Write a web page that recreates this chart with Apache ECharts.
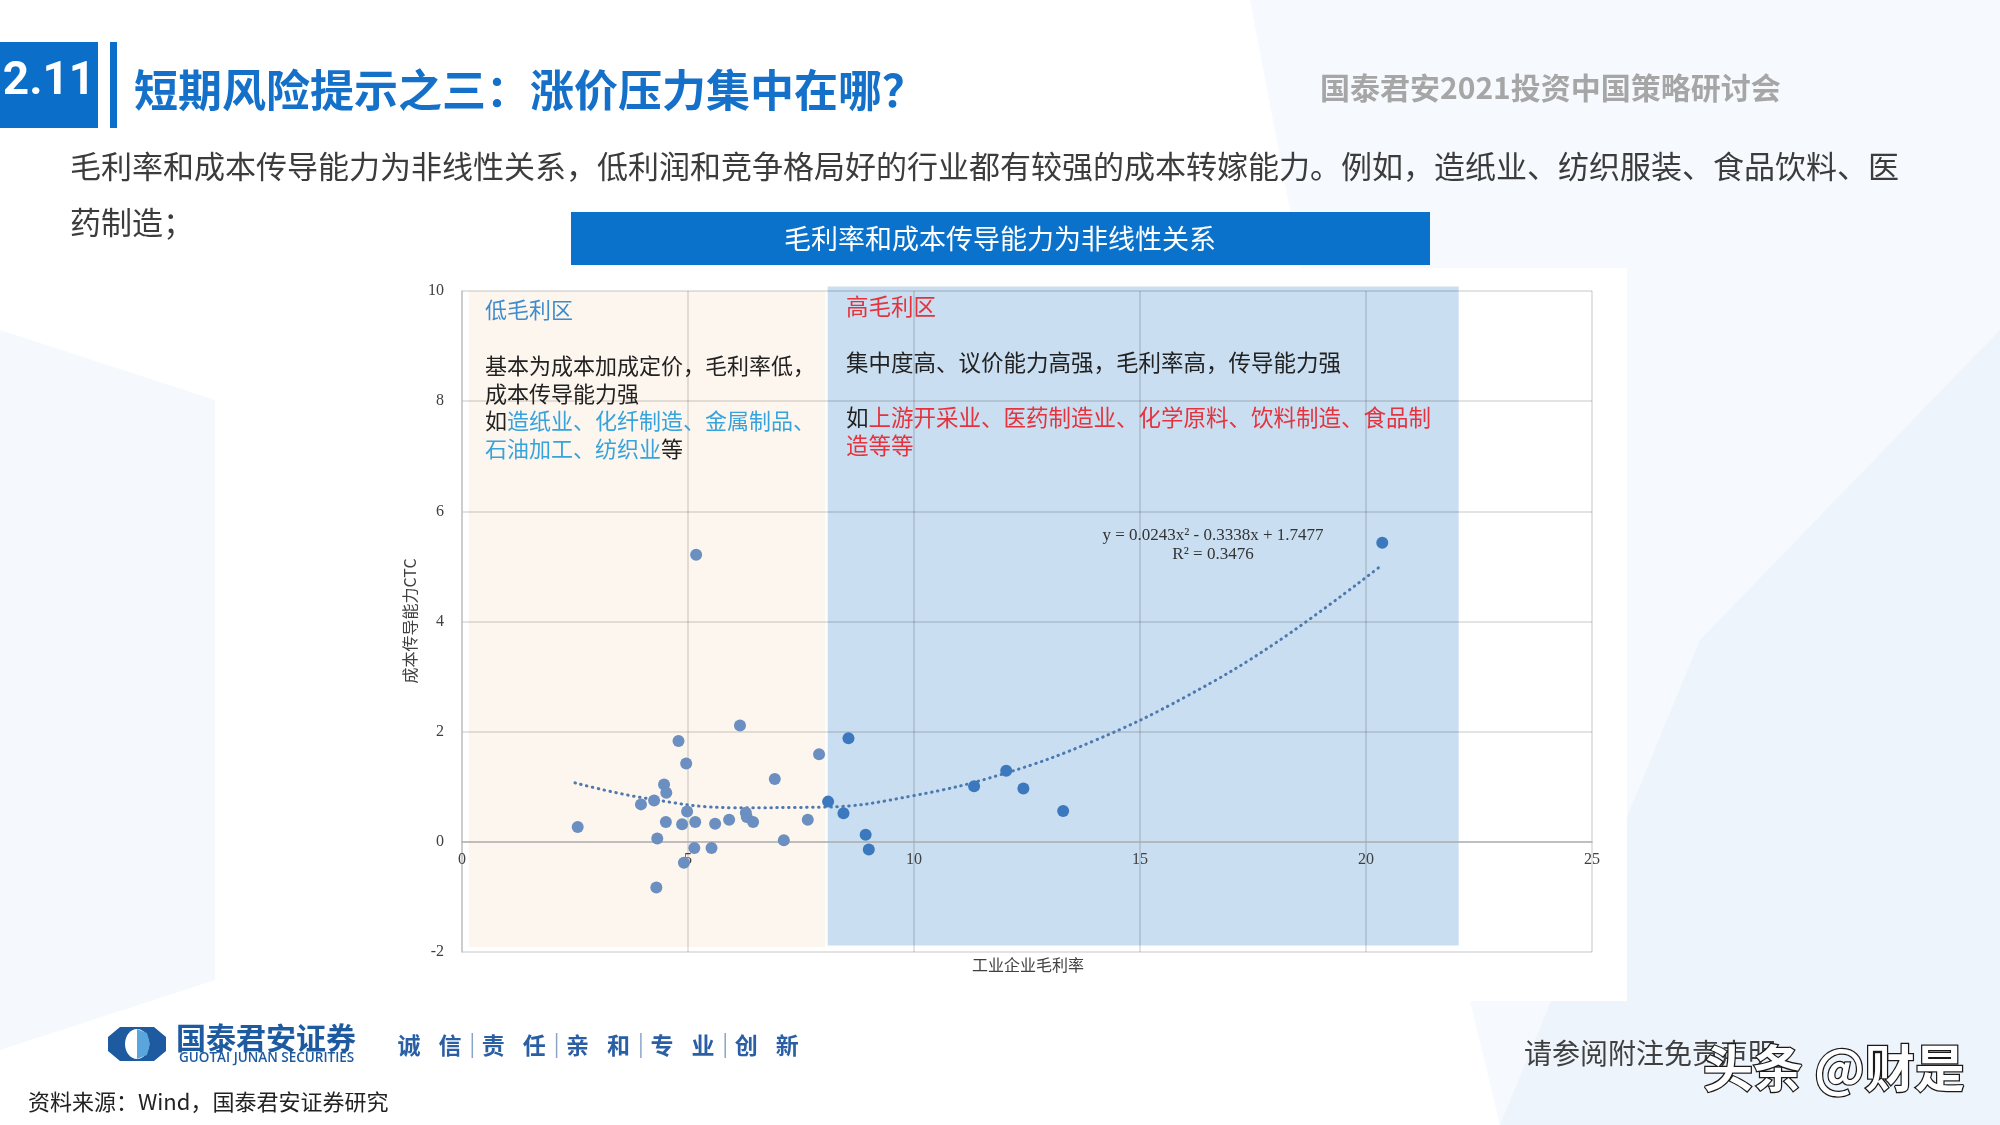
<!DOCTYPE html>
<html>
<head>
<meta charset="utf-8">
<script src="https://cdn.jsdelivr.net/npm/echarts/dist/echarts.min.js"></script>
<style>
html, body { margin: 0; padding: 0; background: #fff; }
#chart { width: 2000px; height: 1125px; }
</style>
</head>
<body>
<div id="chart"></div>
<script>
// 低毛利区散点（工业企业毛利率, 成本传导能力CTC）
var lowMarginX = [5.18, 6.15, 4.79, 4.96, 7.90, 6.92, 4.47, 4.52, 4.25, 3.96, 4.98, 6.28, 6.30, 6.44, 4.51, 4.87, 5.16, 5.60, 5.91, 7.65, 2.56, 4.32, 7.12, 5.14, 5.52, 4.91, 4.30];
var lowMarginY = [5.21, 2.11, 1.83, 1.42, 1.59, 1.14, 1.04, 0.89, 0.75, 0.68, 0.55, 0.53, 0.45, 0.36, 0.36, 0.32, 0.36, 0.33, 0.40, 0.40, 0.27, 0.06, 0.03, -0.11, -0.11, -0.38, -0.83];
// 高毛利区散点
var highMarginX = [8.55, 8.10, 8.44, 8.93, 9.00, 11.33, 12.04, 12.42, 13.30, 20.36];
var highMarginY = [1.88, 0.73, 0.52, 0.13, -0.14, 1.01, 1.29, 0.97, 0.56, 5.43];
// 趋势线
var trendX = [2.5, 4, 6, 8, 10, 12, 14, 16, 18, 20.3];
var trendY = [1.07, 0.80, 0.62, 0.63, 0.84, 1.24, 1.84, 2.63, 3.61, 4.99];
// 分区范围: [x起, x止, y起, y止]
var zoneLow = [0.15, 8.04, -1.91, 10];
var zoneHigh = [8.09, 22.05, -1.88, 10.08];
var xTicks = [0, 5, 10, 15, 20, 25];
var yTicks = [-2, 0, 2, 4, 6, 8, 10];

var CJK = '"Noto Sans CJK SC", sans-serif';
var SERIF = '"Liberation Serif", "DejaVu Serif", serif';

function zip(xs, ys) {
    var out = [];
    for (var i = 0; i < xs.length; i++) out.push([xs[i], ys[i]]);
    return out;
}

var zoneFill = ['#fdf6ee', '#c9def0'];

var graphics = [
    // 页面背景
    { type: 'polygon', z: -30, shape: { points: [[1250, 0], [2000, 0], [2000, 1125], [1500, 1125], [1330, 420]] }, style: { fill: '#f6f9fd' } },
    { type: 'polygon', z: -29, shape: { points: [[1700, 640], [2000, 330], [2000, 1125], [1500, 1125]] }, style: { fill: '#eef4fb' } },
    { type: 'polygon', z: -29, shape: { points: [[0, 330], [215, 400], [215, 980], [0, 1050]] }, style: { fill: '#f5f8fc' } },
    { type: 'rect', z: -20, shape: { x: 372, y: 268, width: 1255, height: 733 }, style: { fill: '#ffffff' } },
    // 顶部标题
    { type: 'rect', shape: { x: 0, y: 42, width: 98, height: 86 }, style: { fill: '#0b6fca' } },
    { type: 'text', style: { x: 49, y: 82, text: '2.11', fill: '#fff', font: 'bold 46px Roboto, sans-serif', align: 'center', verticalAlign: 'middle' } },
    { type: 'rect', shape: { x: 110, y: 42, width: 7, height: 86 }, style: { fill: '#0b6fca' } },
    { type: 'text', style: { x: 134, y: 90, text: '短期风险提示之三：涨价压力集中在哪？', fill: '#1470c8', font: 'bold 44px ' + CJK, verticalAlign: 'middle' } },
    { type: 'text', style: { x: 1320, y: 88, text: '国泰君安2021投资中国策略研讨会', fill: '#a6a6a6', font: 'bold 30px ' + CJK, verticalAlign: 'middle' } },
    { type: 'text', style: { x: 70, y: 166, text: '毛利率和成本传导能力为非线性关系，低利润和竞争格局好的行业都有较强的成本转嫁能力。例如，造纸业、纺织服装、食品饮料、医', fill: '#3c3c3c', font: '31px ' + CJK, verticalAlign: 'middle' } },
    { type: 'text', style: { x: 70, y: 222, text: '药制造；', fill: '#3c3c3c', font: '31px ' + CJK, verticalAlign: 'middle' } },
    // 图表标题条
    { type: 'rect', shape: { x: 571, y: 212, width: 859, height: 53 }, style: { fill: '#0b72cc' } },
    { type: 'text', style: { x: 1000, y: 239, text: '毛利率和成本传导能力为非线性关系', fill: '#fff', font: '27px ' + CJK, align: 'center', verticalAlign: 'middle' } },
    // 轴名
    { type: 'text', x: 410, y: 621, rotation: Math.PI / 2, style: { x: 0, y: 0, text: '成本传导能力CTC', fill: '#404040', font: '16px ' + CJK, align: 'center', verticalAlign: 'middle' } },
    { type: 'text', style: { x: 1028, y: 965, text: '工业企业毛利率', fill: '#404040', font: '16px ' + CJK, align: 'center', verticalAlign: 'middle' } },
    // 区内说明
    { type: 'text', z: 20, style: { x: 485, y: 310, text: '低毛利区', fill: '#3f8ccc', font: '22px ' + CJK, verticalAlign: 'middle' } },
    { type: 'text', z: 20, style: { x: 485, y: 366, text: '基本为成本加成定价，毛利率低，', fill: '#222', font: '22px ' + CJK, verticalAlign: 'middle' } },
    { type: 'text', z: 20, style: { x: 485, y: 394, text: '成本传导能力强', fill: '#222', font: '22px ' + CJK, verticalAlign: 'middle' } },
    { type: 'text', z: 20, style: { x: 485, y: 421, text: '{k|如}{b|造纸业、化纤制造、金属制品、}', verticalAlign: 'middle',
        rich: { k: { fill: '#222', font: '22px ' + CJK }, b: { fill: '#37a3dc', font: '22px ' + CJK } } } },
    { type: 'text', z: 20, style: { x: 485, y: 449, text: '{b|石油加工、纺织业}{k|等}', verticalAlign: 'middle',
        rich: { k: { fill: '#222', font: '22px ' + CJK }, b: { fill: '#37a3dc', font: '22px ' + CJK } } } },
    { type: 'text', z: 20, style: { x: 846, y: 306, text: '高毛利区', fill: '#e5323c', font: '22.5px ' + CJK, verticalAlign: 'middle' } },
    { type: 'text', z: 20, style: { x: 846, y: 362, text: '集中度高、议价能力高强，毛利率高，传导能力强', fill: '#222', font: '22.5px ' + CJK, verticalAlign: 'middle' } },
    { type: 'text', z: 20, style: { x: 846, y: 417, text: '{k|如}{r|上游开采业、医药制造业、化学原料、饮料制造、食品制}', verticalAlign: 'middle',
        rich: { k: { fill: '#222', font: '22.5px ' + CJK }, r: { fill: '#e5323c', font: '22.5px ' + CJK } } } },
    { type: 'text', z: 20, style: { x: 846, y: 445, text: '造等等', fill: '#e5323c', font: '22.5px ' + CJK, verticalAlign: 'middle' } },
    // 趋势线公式
    { type: 'text', z: 20, style: { x: 1213, y: 536, text: 'y = 0.0243x² - 0.3338x + 1.7477', fill: '#333', font: '17px ' + SERIF, align: 'center', verticalAlign: 'middle' } },
    { type: 'text', z: 20, style: { x: 1213, y: 555, text: 'R² = 0.3476', fill: '#333', font: '17px ' + SERIF, align: 'center', verticalAlign: 'middle' } },
    // 底部 logo
    { type: 'polygon', shape: { points: [[120, 1027], [154, 1027], [166, 1037], [166, 1051], [154, 1061], [120, 1061], [108, 1051], [108, 1037]] }, style: { fill: '#1d5aa0' } },
    { type: 'ellipse', shape: { cx: 137, cy: 1044, rx: 12, ry: 15 }, style: { fill: '#ffffff' } },
    { type: 'polygon', shape: { points: [[137, 1029], [147, 1033], [150, 1044], [147, 1055], [137, 1059]] }, style: { fill: '#5aa5dc' } },
    { type: 'text', style: { x: 176, y: 1038, text: '国泰君安证券', fill: '#1d5aa0', font: 'bold 30px ' + CJK, verticalAlign: 'middle' } },
    { type: 'text', style: { x: 179, y: 1058, text: 'GUOTAI JUNAN SECURITIES', fill: '#1d5aa0', font: '600 13.5px "Open Sans", sans-serif', verticalAlign: 'middle' } },
    { type: 'text', style: { x: 28, y: 1102, text: '资料来源：Wind，国泰君安证券研究', fill: '#222', font: '22px ' + CJK, verticalAlign: 'middle' } },
    { type: 'text', style: { x: 1524, y: 1053, text: '请参阅附注免责声明', fill: '#404040', font: '28px ' + CJK, verticalAlign: 'middle' } },
    { type: 'text', z: 30, style: { x: 1703, y: 1068, text: '头条 @财是', fill: '#ffffff', stroke: '#1a1a1a', lineWidth: 2.5, font: 'bold 50px ' + CJK, verticalAlign: 'middle' } }
];

// 口号
var slogan = ['诚信', '责任', '亲和', '专业', '创新'];
for (var i = 0; i < slogan.length; i++) {
    var x0 = 409 + i * 84.3;
    graphics.push({ type: 'text', style: { x: x0, y: 1045, text: slogan[i][0], fill: '#2a5fa5', font: 'bold 23px ' + CJK, align: 'center', verticalAlign: 'middle' } });
    graphics.push({ type: 'text', style: { x: x0 + 41, y: 1045, text: slogan[i][1], fill: '#2a5fa5', font: 'bold 23px ' + CJK, align: 'center', verticalAlign: 'middle' } });
    if (i > 0) {
        graphics.push({ type: 'line', shape: { x1: x0 - 21, y1: 1033, x2: x0 - 21, y2: 1058 }, style: { stroke: '#8aa4c8', lineWidth: 1.5 } });
    }
}

var chart = echarts.init(document.getElementById('chart'));
chart.setOption({
    backgroundColor: '#ffffff',
    animation: false,
    graphic: graphics,
    grid: { left: 462, right: 408, top: 291, bottom: 173 },
    xAxis: {
        type: 'value', min: xTicks[0], max: xTicks[xTicks.length - 1], interval: 5, z: 5,
        axisLine: { onZero: false, lineStyle: { color: '#b4b4b4', width: 1.5 } },
        axisTick: { show: false },
        axisLabel: { margin: 10, fontFamily: SERIF, fontSize: 16, color: '#404040' },
        splitLine: { lineStyle: { color: 'rgba(0,0,0,0.15)', width: 1.5 } }
    },
    yAxis: {
        type: 'value', min: yTicks[0], max: yTicks[yTicks.length - 1], interval: 2, z: 5,
        axisLine: { show: true, lineStyle: { color: '#c4c4c4', width: 1.5 } },
        axisTick: { show: false },
        axisLabel: { margin: 18, fontFamily: SERIF, fontSize: 16, color: '#404040' },
        splitLine: { lineStyle: { color: 'rgba(0,0,0,0.15)', width: 1.5 } }
    },
    series: [{
        type: 'custom',
        z: 1,
        silent: true,
        data: [zoneLow, zoneHigh],
        encode: { x: [0, 1], y: [2, 3] },
        renderItem: function (params, api) {
            var p0 = api.coord([api.value(0), api.value(3)]);
            var p1 = api.coord([api.value(1), api.value(2)]);
            return {
                type: 'rect',
                shape: { x: p0[0], y: p0[1], width: p1[0] - p0[0], height: p1[1] - p0[1] },
                style: { fill: zoneFill[params.dataIndex] }
            };
        }
    }, {
        type: 'line',
        z: 10,
        data: zip(trendX, trendY),
        smooth: 0.4,
        showSymbol: false,
        lineStyle: { color: '#4d79b0', width: 3, type: [0.5, 5.5], cap: 'round' }
    }, {
        type: 'scatter',
        z: 11,
        data: zip(lowMarginX, lowMarginY),
        symbolSize: 12,
        itemStyle: { color: '#6a8fc0', opacity: 1 }
    }, {
        type: 'scatter',
        z: 11,
        data: zip(highMarginX, highMarginY),
        symbolSize: 12,
        itemStyle: { color: '#3b78be', opacity: 1 }
    }]
});

// 横轴放在 y=0 处（Excel 式的坐标轴交叉）
var pyZero = chart.convertToPixel({ yAxisIndex: 0 }, 0);
var pyMin = chart.convertToPixel({ yAxisIndex: 0 }, yTicks[0]);
chart.setOption({ xAxis: { offset: pyZero - pyMin } });
</script>
</body>
</html>
